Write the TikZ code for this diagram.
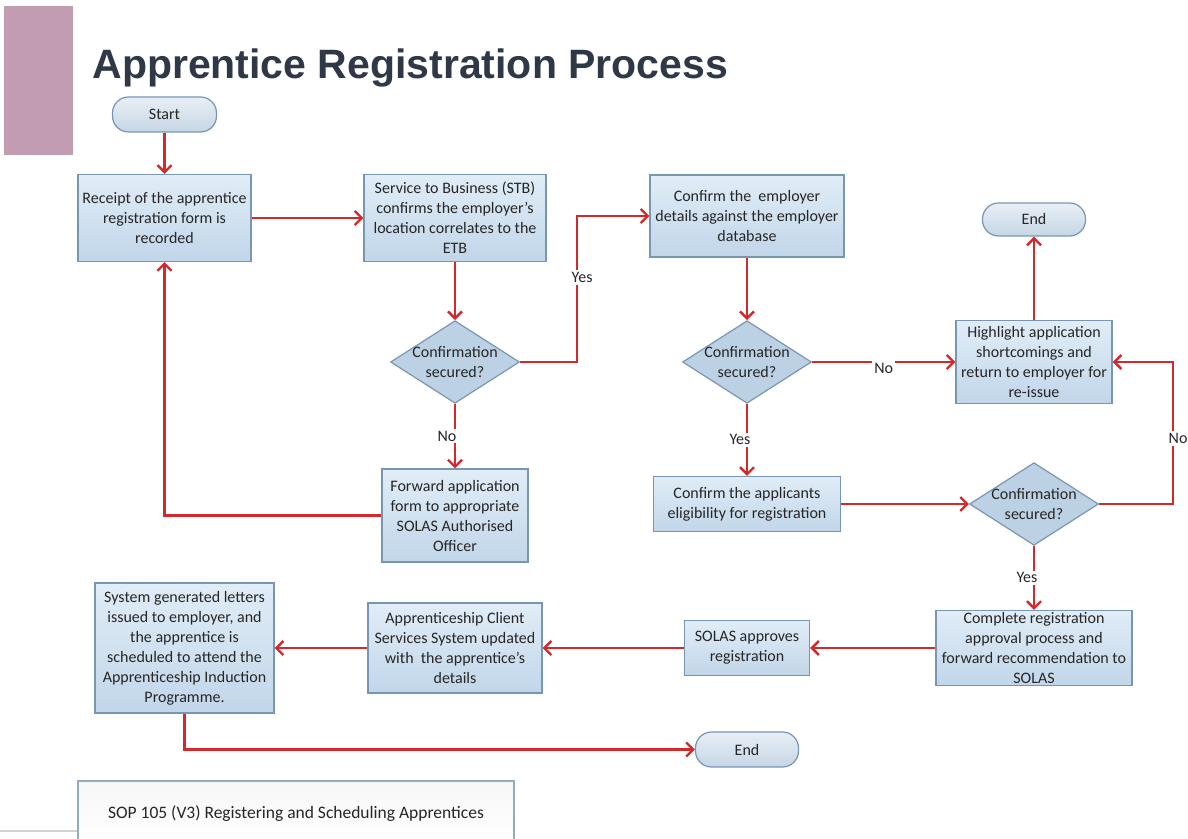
\documentclass[tikz,border=0pt]{standalone}
\usepackage{fontspec}
\setmainfont{Carlito}
\newfontfamily\titlefont{Liberation Sans}
\usetikzlibrary{shapes.geometric,arrows.meta}
\definecolor{flowred}{HTML}{D3292B}
\definecolor{boxtop}{HTML}{E1EDF7}
\definecolor{boxbot}{HTML}{C1D6E9}
\definecolor{boxline}{HTML}{7896B3}
\definecolor{decfill}{HTML}{BCD2E4}
\definecolor{termtop}{HTML}{E8EFF6}
\definecolor{termbot}{HTML}{C6D6E4}
\definecolor{textgray}{HTML}{262626}
\definecolor{titlecol}{HTML}{2E3847}
\definecolor{mauve}{HTML}{C29CB1}
\begin{document}
\begin{tikzpicture}[
    x=0.5pt, y=-0.5pt,
    box/.style={rectangle, draw=boxline, top color=boxtop, bottom color=boxbot, line width=0.6pt, align=center, text=textgray, inner sep=1.5pt, font=\fontsize{8}{10}\selectfont},
    decision/.style={diamond, draw=boxline, fill=decfill, line width=0.6pt, aspect=1.56, inner sep=-0.5pt, align=center, text=textgray, font=\fontsize{8}{10}\selectfont},
    term/.style={rectangle, rounded corners=8pt, draw=boxline, top color=termtop, bottom color=termbot, line width=0.6pt, text=textgray, font=\fontsize{8}{10}\selectfont},
    arr/.style={-{Straight Barb[length=3.5pt,width=7pt]}, line width=1.2pt, flowred},
    lbl/.style={fill=white, inner sep=1pt, text=textgray, font=\fontsize{8}{10}\selectfont}
]
\useasboundingbox (0,0) rectangle (1188,839);
\fill[mauve] (4,6) rectangle (73,155);
\node[anchor=base west, inner sep=0pt, text=titlecol, font=\titlefont\bfseries\fontsize{20.5}{24}\selectfont] (title) at (92,79) {Apprentice Registration Process};

\node[term, minimum width=52pt, minimum height=17.5pt] (start) at (164.5,114.5) {Start};
\node[box, minimum width=86.5pt, minimum height=43.5pt] (receipt) at (164.5,218) {Receipt of the apprentice\\registration form is\\recorded};
\node[box, minimum width=91pt, minimum height=43.5pt] (stb) at (455,218) {Service to Business (STB)\\confirms the employer’s\\location correlates to the\\ETB};
\node[decision] (conf1) at (455,362) {Confirmation\\secured?};
\node[box, minimum width=73pt, minimum height=46.5pt] (forward) at (455,515.5) {Forward application\\form to appropriate\\SOLAS Authorised\\Officer};
\node[box, minimum width=97pt, minimum height=41pt] (employer) at (747,216) {Confirm the \ employer\\details against the employer\\database};
\node[decision] (conf2) at (747,362) {Confirmation\\secured?};
\node[term, minimum width=51.5pt, minimum height=16.5pt] (endtop) at (1034,219.5) {End};
\node[box, minimum width=78pt, minimum height=41.5pt] (highlight) at (1034,362) {Highlight application\\shortcomings and\\return to employer for\\re-issue};
\node[box, minimum width=93.5pt, minimum height=27.5pt] (eligible) at (747,504) {Confirm the applicants\\eligibility for registration};
\node[decision] (conf3) at (1034,504) {Confirmation\\secured?};
\node[box, minimum width=98pt, minimum height=37.5pt, inner ysep=-1pt] (complete) at (1034,648) {Complete registration\\approval process and\\forward recommendation to\\SOLAS};
\node[box, minimum width=62.5pt, minimum height=27.5pt] (approve) at (747,648) {SOLAS approves\\registration};
\node[box, minimum width=87pt, minimum height=45pt] (client) at (455,648) {Apprenticeship Client\\Services System updated\\with \ the apprentice’s\\details};
\node[box, minimum width=89.5pt, minimum height=65pt] (letters) at (184.5,648) {System generated letters\\issued to employer, and\\the apprentice is\\scheduled to attend the\\Apprenticeship Induction\\Programme.};
\node[term, minimum width=51.5pt, minimum height=17.5pt] (endbot) at (747,749.5) {End};

\node[rectangle, draw=boxline!80, top color=gray!6, bottom color=white, line width=0.6pt, minimum width=218pt, minimum height=34pt, text=textgray, font=\fontsize{8.75}{10}\selectfont] (footer) at (296,815) {\raisebox{3pt}{SOP 105 (V3) Registering and Scheduling Apprentices}};
\draw[gray!35, line width=0.8pt] (0,831) -- (footer.west |- 0,831);

\draw[arr] (start) -- (receipt);
\draw[arr] (receipt) -- (stb);
\draw[arr] (stb) -- (conf1);
\draw[arr] (conf1.east) -- ++(57,0) |- node[lbl, pos=0.29, xshift=2.5pt] {Yes} (employer.west);
\draw[arr] (conf1) -- node[lbl, xshift=-4pt] {No} (forward);
\draw[arr] (forward.west) -| (receipt.south);
\draw[arr] (employer) -- (conf2);
\draw[arr] (conf2) -- node[lbl, yshift=-3pt] {No} (highlight);
\draw[arr] (conf2) -- node[lbl, xshift=-3.5pt] {Yes} (eligible);
\draw[arr] (eligible) -- (conf3);
\draw[arr] (conf3.east) -- ++(74,0) |- node[lbl, pos=0.23, xshift=2.5pt] {No} (highlight.east);
\draw[arr] (highlight) -- (endtop);
\draw[arr] (conf3) -- node[lbl, xshift=-3.5pt] {Yes} (complete);
\draw[arr] (complete) -- (approve);
\draw[arr] (approve) -- (client);
\draw[arr] (client) -- (letters);
\draw[arr] (letters.south) |- (endbot.west);
\end{tikzpicture}
\end{document}
